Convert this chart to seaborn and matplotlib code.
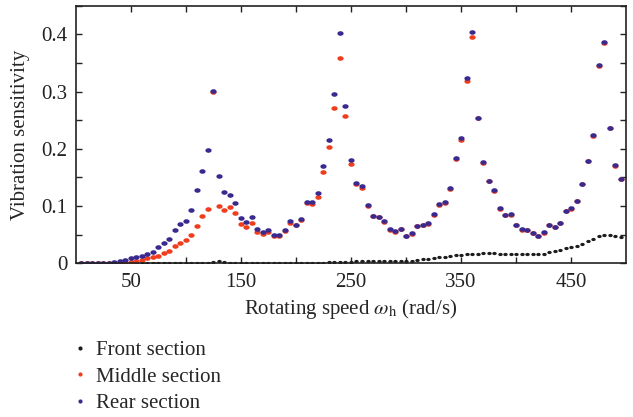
import numpy as np
import pandas as pd
import matplotlib
matplotlib.use("Agg")
import matplotlib.pyplot as plt
from matplotlib.path import Path
from matplotlib.ticker import MultipleLocator, FixedLocator, FuncFormatter
import seaborn as sns

speed = list(range(5, 500, 5))

front = [0.0, 0.0, 0.0, 0.0, 0.0, 0.0, 0.0, 0.0, 0.0, 0.0, 0.0, 0.0,
         0.0005, 0.0005, 0.0005, 0.0005, 0.0005, 0.0005, 0.0005, 0.0005,
         0.001, 0.001, 0.001, 0.001, 0.0015, 0.003, 0.0015,
         0.001, 0.001, 0.001, 0.001, 0.001, 0.001, 0.001, 0.001, 0.001,
         0.001, 0.001, 0.001, 0.001, 0.001, 0.001, 0.001, 0.001, 0.001,
         0.002, 0.0025, 0.0025, 0.0025, 0.0025, 0.003, 0.003, 0.003, 0.003,
         0.003, 0.003, 0.003, 0.003, 0.003, 0.003,
         0.004, 0.005, 0.0064, 0.008, 0.0093, 0.0099, 0.011, 0.0122, 0.0134,
         0.0145, 0.0157, 0.0163, 0.0168, 0.0174, 0.018, 0.0174, 0.0168,
         0.0163, 0.0163, 0.0168, 0.0163, 0.0157, 0.0155, 0.0151, 0.0157,
         0.019, 0.0215, 0.0232, 0.0261, 0.028, 0.030, 0.0337, 0.038, 0.043,
         0.0476, 0.0488, 0.0488, 0.047, 0.0453]

middle = [0.0, 0.0, 0.0, 0.0, 0.0, 0.0, 0.0, 0.0006, 0.001, 0.0023, 0.0035,
          0.0052, 0.0081, 0.0099, 0.0128, 0.0174, 0.022, 0.0308, 0.0348,
          0.0407, 0.049, 0.0656, 0.083, 0.0947, 0.300, 0.1005, 0.0935,
          0.0976, 0.088, 0.0685, 0.0627, 0.0708, 0.0552, 0.0505, 0.0552,
          0.0482, 0.047, 0.0563, 0.0697, 0.0662, 0.0761, 0.105, 0.1028,
          0.116, 0.159, 0.203, 0.271, 0.358, 0.257, 0.174, 0.138, 0.131,
          0.1005, 0.0825, 0.0807, 0.0728, 0.0583, 0.0546, 0.0590, 0.0474,
          0.0515, 0.0648, 0.0666, 0.0690, 0.0845, 0.1017, 0.1060, 0.1297,
          0.182, 0.216, 0.319, 0.395, 0.253, 0.175, 0.143, 0.127, 0.0955,
          0.0834, 0.0846, 0.0660, 0.0584, 0.0572, 0.0526, 0.0466, 0.0532,
          0.0660, 0.0630, 0.0700, 0.0903, 0.0955, 0.1078, 0.1380, 0.1780,
          0.2226, 0.3455, 0.3856, 0.2360, 0.1700, 0.1465]

rear = [0.0, 0.0, 0.0, 0.0, 0.0, 0.0006, 0.0017, 0.0029, 0.0052, 0.0081,
        0.0099, 0.0116, 0.0151, 0.0203, 0.0285, 0.0354, 0.043, 0.0587,
        0.068, 0.0738, 0.0923, 0.128, 0.161, 0.197, 0.301, 0.152, 0.124,
        0.119, 0.106, 0.079, 0.0726, 0.0813, 0.0598, 0.054, 0.0575, 0.050,
        0.0488, 0.058, 0.0732, 0.0674, 0.0778, 0.1074, 0.1063, 0.123,
        0.170, 0.216, 0.295, 0.403, 0.275, 0.180, 0.141, 0.135, 0.101,
        0.0825, 0.0813, 0.0738, 0.0592, 0.0557, 0.0598, 0.0482, 0.0523,
        0.0656, 0.0674, 0.0697, 0.0854, 0.1028, 0.1069, 0.1307, 0.184,
        0.218, 0.323, 0.404, 0.254, 0.176, 0.144, 0.128, 0.0964, 0.0842,
        0.0854, 0.0668, 0.0592, 0.058, 0.0534, 0.0476, 0.054, 0.0668,
        0.0639, 0.0708, 0.0912, 0.0964, 0.1086, 0.1388, 0.1789, 0.2236,
        0.347, 0.387, 0.237, 0.171, 0.1475]

series_names = ["Front section", "Middle section", "Rear section"]
colors = ["#1c1c1c", "#ef3d1e", "#3a2a8e"]

df = pd.concat([
    pd.DataFrame({"speed": speed, "value": front, "section": series_names[0]}),
    pd.DataFrame({"speed": speed, "value": middle, "section": series_names[1]}),
    pd.DataFrame({"speed": speed, "value": rear, "section": series_names[2]}),
], ignore_index=True)

sns.set_style("ticks")
plt.rcParams["font.family"] = ["Liberation Serif", "DejaVu Serif"]
plt.rcParams["mathtext.fontset"] = "stix"

FS = 15

fig = plt.figure(figsize=(6.33, 4.17), dpi=100)
ax = fig.add_axes([0.120, 0.369, 0.869, 0.617])

t = np.linspace(0, 2 * np.pi, 40)
ell = Path(np.column_stack([1.35 * np.cos(t), np.sin(t)]), closed=True)

sizes = {series_names[0]: 10, series_names[1]: 20, series_names[2]: 20}
for name, col in zip(series_names, colors):
    sub = df[df["section"] == name]
    sns.scatterplot(data=sub, x="speed", y="value", ax=ax, color=col,
                    marker=ell, s=sizes[name], linewidth=0, label=name,
                    legend=False)

ax.set_xlim(0, 500)
ax.set_ylim(0, 0.45)
ax.xaxis.set_major_locator(FixedLocator([50, 150, 250, 350, 450]))
ax.xaxis.set_minor_locator(FixedLocator([100, 200, 300, 400]))
ax.yaxis.set_major_locator(MultipleLocator(0.1))
ax.yaxis.set_minor_locator(MultipleLocator(0.05))
ax.yaxis.set_major_formatter(FuncFormatter(lambda v, p: "0" if abs(v) < 1e-9 else f"{v:.1f}"))
ax.tick_params(which="both", direction="in", top=True, right=True,
               length=4, width=1.0, colors="#222222", labelsize=FS, pad=6)
ax.tick_params(axis="x", pad=7)
for s in ax.spines.values():
    s.set_linewidth(1.2)
    s.set_color("#222222")
ax.set_xlabel(r"Rotating speed $\omega_\mathrm{h}$ (rad/s)", fontsize=FS, labelpad=4)
ax.set_ylabel("Vibration sensitivity", fontsize=FS, labelpad=8)

handles = [plt.Line2D([], [], ls="none", marker="o", markersize=3.0,
                      markerfacecolor=c, markeredgewidth=0) for c in colors]
fig.legend(handles, series_names, loc="upper left", bbox_to_anchor=(0.118, 0.184),
           frameon=False, fontsize=FS, handlelength=0.5, handletextpad=0.5,
           labelspacing=0.34, borderpad=0, borderaxespad=0)

fig.savefig("out.png", dpi=100)
